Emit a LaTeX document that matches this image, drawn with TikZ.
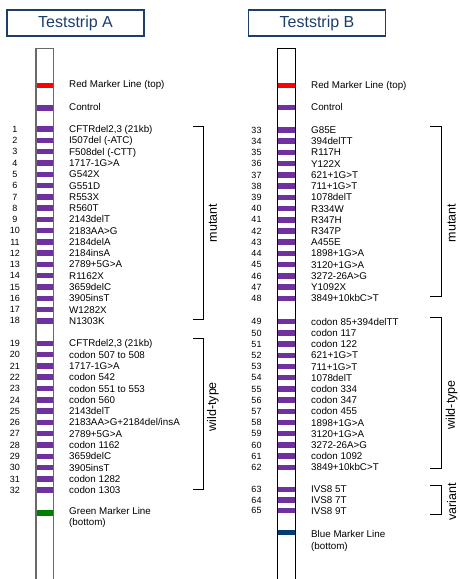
\documentclass[tikz,border=0pt]{standalone}
\usepackage{fontspec}
\setmainfont{Liberation Sans}
\usepackage{tikz}
\usepackage{xcolor}
\usetikzlibrary{calc,positioning}

\definecolor{bandpurple}{RGB}{112,48,160}
\definecolor{titleblue}{RGB}{28,62,105}
\definecolor{markgreen}{RGB}{0,128,0}
\definecolor{markblue}{RGB}{0,61,115}
\definecolor{stripgray}{RGB}{105,105,105}

\tikzset{
  titlebox/.style={draw=titleblue, line width=1.2pt, text=titleblue,
    minimum width=137pt, minimum height=26pt, inner sep=0pt,
    font=\fontsize{16}{18}\selectfont},
  bandbox/.style={minimum width=17pt, minimum height=5.5pt, inner sep=0pt},
  mlabel/.style={anchor=west, inner sep=0pt, text height=7pt, text depth=0pt,
    font=\fontsize{9.8}{11}\selectfont},
  numtxt/.style={inner sep=0pt, text height=6.4pt, text depth=0pt,
    font=\fontsize{9}{10}\selectfont},
  grp/.style={rotate=90, inner sep=0pt, font=\fontsize{12.5}{14}\selectfont},
  bracket/.style={line width=0.9pt},
}

\begin{document}
\begin{tikzpicture}[x=1pt, y=-1pt]
  \useasboundingbox (0,0) rectangle (459,579);
  \def\ax{44.85}
  \def\bx{286.3}

  % titles
  \node[titlebox] (tA) at (75.5,23) {Teststrip A};
  \node[titlebox] (tB) at (317,23) {Teststrip B};

  % ---------------- strip A ----------------
  \node[bandbox, fill=red] (redA) at (\ax,85.3) {};
  \node[mlabel] (lredA) at (69,83.5) {Red Marker Line (top)};
  \node[bandbox, fill=bandpurple] (ctrlA) at (\ax,108) {};
  \node[mlabel] (lctrlA) at (69,106.5) {Control};

  % mutant lines
  \foreach \n/\t in {1/{CFTRdel2,3 (21kb)}, 2/{I507del (-ATC)}, 3/{F508del (-CTT)},
      4/{1717-1G>A}, 5/{G542X}, 6/{G551D}, 7/{R553X}, 8/{R560T}, 9/{2143delT},
      10/{2183AA>G}, 11/{2184delA}, 12/{2184insA}, 13/{2789+5G>A}, 14/{R1162X},
      15/{3659delC}, 16/{3905insT}, 17/{W1282X}, 18/{N1303K}} {
    \pgfmathsetmacro\y{129.2+(\n-1)*11.27}
    \node[bandbox, fill=bandpurple] (bA\n) at (\ax,\y) {};
    \node[numtxt] (nA\n) at (15,\y) {\n};
    \node[mlabel] (lA\n) at (69,\y) {\t};
  }
  % wild-type lines
  \foreach \n/\t in {19/{CFTRdel2,3 (21kb)}, 20/{codon 507 to 508}, 21/{1717-1G>A},
      22/{codon 542}, 23/{codon 551 to 553}, 24/{codon 560}, 25/{2143delT},
      26/{2183AA>G+2184del/insA}, 27/{2789+5G>A}, 28/{codon 1162}, 29/{3659delC},
      30/{3905insT}, 31/{codon 1282}, 32/{codon 1303}} {
    \pgfmathsetmacro\y{343.3+(\n-19)*11.3}
    \node[bandbox, fill=bandpurple] (bA\n) at (\ax,\y) {};
    \node[numtxt] (nA\n) at (15,\y) {\n};
    \node[mlabel] (lA\n) at (69,\y) {\t};
  }

  \node[bandbox, fill=markgreen] (greenA) at (\ax,513) {};
  \node[inner sep=0pt, anchor=north west, align=left,
    font=\fontsize{9.8}{10.6}\selectfont] (lgreenA) at (69,507.5)
    {Green Marker Line\\(bottom)};

  % strip outline
  \draw[line width=1.3pt, stripgray] (36,585) -- (36,48.3) -- (53.7,48.3) -- (53.7,585);

  % brackets
  \coordinate (mAt) at (193,126.7);
  \coordinate (mAb) at (193,319);
  \coordinate (wAt) at (193,338.3);
  \coordinate (wAb) at (193,489.3);
  \draw[bracket] (mAt) -- ++(10.3,0) |- (mAb);
  \draw[bracket] (wAt) -- ++(10.3,0) |- (wAb);
  \node[grp] (gmA) at (213,223) {mutant};
  \node[grp] (gwA) at (213,406.7) {wild-type};

  % ---------------- strip B ----------------
  \node[bandbox, fill=red] (redB) at (\bx,85.7) {};
  \node[mlabel] (lredB) at (311,85) {Red Marker Line (top)};
  \node[bandbox, fill=bandpurple] (ctrlB) at (\bx,107.7) {};
  \node[mlabel] (lctrlB) at (311,107) {Control};

  % mutant lines
  \foreach \n/\t in {33/{G85E}, 34/{394delTT}, 35/{R117H}, 36/{Y122X}, 37/{621+1G>T},
      38/{711+1G>T}, 39/{1078delT}, 40/{R334W}, 41/{R347H}, 42/{R347P}, 43/{A455E},
      44/{1898+1G>A}, 45/{3120+1G>A}, 46/{3272-26A>G}, 47/{Y1092X}, 48/{3849+10kbC>T}} {
    \pgfmathsetmacro\y{130+(\n-33)*11.22}
    \node[bandbox, fill=bandpurple] (bB\n) at (\bx,\y) {};
    \node[numtxt] (nB\n) at (256.5,\y) {\n};
    \node[mlabel] (lB\n) at (311,\y) {\t};
  }
  % wild-type lines
  \foreach \n/\t in {49/{codon 85+394delTT}, 50/{codon 117}, 51/{codon 122},
      52/{621+1G>T}, 53/{711+1G>T}, 54/{1078delT}, 55/{codon 334}, 56/{codon 347},
      57/{codon 455}, 58/{1898+1G>A}, 59/{3120+1G>A}, 60/{3272-26A>G},
      61/{codon 1092}, 62/{3849+10kbC>T}} {
    \pgfmathsetmacro\y{321.7+(\n-49)*11.2}
    \node[bandbox, fill=bandpurple] (bB\n) at (\bx,\y) {};
    \node[numtxt] (nB\n) at (256.5,\y) {\n};
    \node[mlabel] (lB\n) at (311,\y) {\t};
  }
  % variant lines
  \foreach \n/\t in {63/{IVS8 5T}, 64/{IVS8 7T}, 65/{IVS8 9T}} {
    \pgfmathsetmacro\y{489.3+(\n-63)*10.7}
    \node[bandbox, fill=bandpurple] (bB\n) at (\bx,\y) {};
    \node[numtxt] (nB\n) at (256.5,\y) {\n};
    \node[mlabel] (lB\n) at (311,\y) {\t};
  }

  \node[bandbox, fill=markblue] (blueB) at (\bx,532.3) {};
  \node[inner sep=0pt, anchor=north west, align=left,
    font=\fontsize{9.8}{11.7}\selectfont] (lblueB) at (311,530)
    {Blue Marker Line\\(bottom)};

  % strip outline
  \draw[line width=1.3pt] (277.3,585) -- (277.3,48.7) -- (295.3,48.7) -- (295.3,585);

  % brackets
  \coordinate (mBt) at (430,126.7);
  \coordinate (mBb) at (430,296.5);
  \coordinate (wBt) at (430,317.3);
  \coordinate (wBb) at (430,468.3);
  \coordinate (vBt) at (430,485);
  \coordinate (vBb) at (430,514);
  \draw[bracket] (mBt) -- ++(11.7,0) |- (mBb);
  \draw[bracket] (wBt) -- ++(11.7,0) |- (wBb);
  \draw[bracket] (vBt) -- ++(11.7,0) |- (vBb);
  \node[grp] (gmB) at (451.7,223) {mutant};
  \node[grp] (gwB) at (451.7,405) {wild-type};
  \node[grp] (gvB) at (451.7,501.7) {variant};
\end{tikzpicture}
\end{document}
